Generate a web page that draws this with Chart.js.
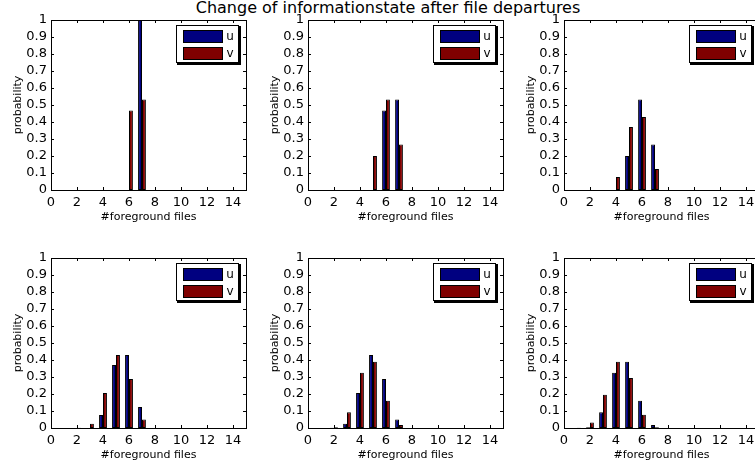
<!DOCTYPE html>
<html>
<head>
<meta charset="utf-8">
<script src="https://cdn.jsdelivr.net/npm/chart.js@4.4.1/dist/chart.umd.min.js"></script>
<style>
  body { margin: 0; width: 755px; height: 470px; overflow: hidden; background: #fff; position: relative; font-family: "DejaVu Sans", sans-serif; }
  canvas { position: absolute; }
  #suptitle { position: absolute; top: 0; left: 0; width: 776px; text-align: center; font-size: 16px; line-height: 16px; color: #000; white-space: nowrap; }
</style>
</head>
<body>
<div id="suptitle"></div>

<script>
// ---- data ----
const figureTitle = "Change of informationstate after file departures";
const xTitle = "#foreground files";
const yTitle = "probability";
const seriesNames = ["u", "v"];

const fileCounts = [0, 1, 2, 3, 4, 5, 6, 7, 8, 9, 10, 11, 12, 13, 14];
const xTicks = [0, 2, 4, 6, 8, 10, 12, 14];
const yTicks = [0, 0.1, 0.2, 0.3, 0.4, 0.5, 0.6, 0.7, 0.8, 0.9, 1];

//             0  1      2      3      4      5      6      7      8..14
const uProb1 = [0, 0,     0,     0,     0,     0,     0,     1,     0, 0, 0, 0, 0, 0, 0];
const vProb1 = [0, 0,     0,     0,     0,     0,     0.467, 0.533, 0, 0, 0, 0, 0, 0, 0];
const uProb2 = [0, 0,     0,     0,     0,     0,     0.467, 0.533, 0, 0, 0, 0, 0, 0, 0];
const vProb2 = [0, 0,     0,     0,     0,     0.2,   0.533, 0.267, 0, 0, 0, 0, 0, 0, 0];
const uProb3 = [0, 0,     0,     0,     0,     0.2,   0.533, 0.267, 0, 0, 0, 0, 0, 0, 0];
const vProb3 = [0, 0,     0,     0,     0.076, 0.371, 0.429, 0.124, 0, 0, 0, 0, 0, 0, 0];
const uProb4 = [0, 0,     0,     0,     0.076, 0.371, 0.429, 0.124, 0, 0, 0, 0, 0, 0, 0];
const vProb4 = [0, 0,     0.001, 0.025, 0.206, 0.429, 0.288, 0.05,  0, 0, 0, 0, 0, 0, 0];
const uProb5 = [0, 0,     0.001, 0.025, 0.206, 0.429, 0.288, 0.05,  0, 0, 0, 0, 0, 0, 0];
const vProb5 = [0, 0,     0.005, 0.092, 0.325, 0.39,  0.16,  0.017, 0, 0, 0, 0, 0, 0, 0];
const uProb6 = [0, 0,     0.005, 0.092, 0.325, 0.39,  0.16,  0.017, 0, 0, 0, 0, 0, 0, 0];
const vProb6 = [0, 0.001, 0.033, 0.195, 0.39,  0.294, 0.078, 0.005, 0, 0, 0, 0, 0, 0, 0];

const panels = [
  [uProb1, vProb1], [uProb2, vProb2], [uProb3, vProb3],
  [uProb4, vProb4], [uProb5, vProb5], [uProb6, vProb6]
];

// ---- layout / style ----
const colLefts = [51, 308, 564];
const rowTops = [20, 258];
const plotW = 195, plotH = 170;
const padLeft = 51, padTop = 20, padRight = 5, canvasH = 230;
const colors = ["#000080", "#800000"];
const fontFam = "'DejaVu Sans', sans-serif";

document.getElementById("suptitle").textContent = figureTitle;

// box, inward ticks and matlab style legend
const matlabFrame = {
  id: 'matlabFrame',
  afterDraw(chart) {
    const ctx = chart.ctx;
    const a = chart.chartArea;
    const xs = chart.scales.x, ys = chart.scales.y;
    const tl = 3;
    ctx.save();
    ctx.strokeStyle = '#000';
    ctx.lineWidth = 1;
    ctx.strokeRect(Math.round(a.left) + 0.5, Math.round(a.top) + 0.5, Math.round(a.right - a.left), Math.round(a.bottom - a.top));
    ctx.beginPath();
    xTicks.forEach(function(v) {
      const px = Math.round(xs.getPixelForValue(v)) + 0.5;
      ctx.moveTo(px, a.bottom); ctx.lineTo(px, a.bottom - tl);
      ctx.moveTo(px, a.top); ctx.lineTo(px, a.top + tl);
    });
    yTicks.forEach(function(v) {
      const py = Math.round(ys.getPixelForValue(v)) + 0.5;
      ctx.moveTo(a.left, py); ctx.lineTo(a.left + tl, py);
      ctx.moveTo(a.right, py); ctx.lineTo(a.right - tl, py);
    });
    ctx.stroke();

    // legend
    const bw = 63, bh = 38;
    const bx = Math.round(a.right - 7 - bw), by = Math.round(a.top + 5);
    ctx.fillStyle = '#000';
    ctx.fillRect(bx + 1, by + 1, bw + 1, bh + 1);
    ctx.fillStyle = '#fff';
    ctx.fillRect(bx, by, bw, bh);
    ctx.strokeRect(bx + 0.5, by + 0.5, bw - 1, bh - 1);
    ctx.font = "12px " + fontFam;
    ctx.textAlign = 'center';
    ctx.textBaseline = 'middle';
    chart.data.datasets.forEach(function(ds, i) {
      const sy = by + 5 + i * 17;
      ctx.fillStyle = ds.backgroundColor;
      ctx.fillRect(bx + 7, sy, 40, 13);
      ctx.strokeRect(bx + 7.5, sy + 0.5, 39, 12);
      ctx.fillStyle = '#000';
      ctx.fillText(ds.label, bx + 54, sy + 6.5);
    });
    ctx.restore();
  }
};

panels.forEach(function(series, i) {
  const col = i % 3, row = Math.floor(i / 3);
  const cv = document.createElement('canvas');
  cv.width = padLeft + plotW + padRight;
  cv.height = canvasH;
  cv.style.left = (colLefts[col] - padLeft) + 'px';
  cv.style.top = (rowTops[row] - padTop) + 'px';
  document.body.appendChild(cv);

  new Chart(cv, {
    type: 'bar',
    data: {
      datasets: series.map(function(vals, k) {
        return {
          label: seriesNames[k],
          data: fileCounts.map(function(f, j) { return { x: f, y: vals[j] }; }),
          backgroundColor: colors[k],
          borderColor: '#000',
          borderWidth: 1,
          borderSkipped: false,
          categoryPercentage: 0.6,
          barPercentage: 1
        };
      })
    },
    options: {
      responsive: false,
      animation: false,
      layout: { padding: { top: padTop, right: padRight, left: 0, bottom: 0 } },
      plugins: { legend: { display: false }, tooltip: { enabled: false } },
      scales: {
        x: {
          type: 'linear', min: 0, max: 15, offset: false,
          afterBuildTicks: function(s) { s.ticks = xTicks.map(function(v) { return { value: v }; }); },
          afterFit: function(s) { s.height = canvasH - padTop - plotH; },
          grid: { display: false, drawTicks: false, offset: false },
          border: { display: false },
          ticks: { color: '#000', padding: 5, maxRotation: 0, autoSkip: false, font: { family: fontFam, size: 13 },
                   callback: function(v) { return String(v); } },
          title: { display: true, text: xTitle, color: '#000', font: { family: fontFam, size: 11 }, padding: { top: 0, bottom: 6 } }
        },
        y: {
          min: 0, max: 1,
          afterBuildTicks: function(s) { s.ticks = yTicks.map(function(v) { return { value: v }; }); },
          afterFit: function(s) { s.width = padLeft; },
          grid: { display: false, drawTicks: false },
          border: { display: false },
          ticks: { color: '#000', padding: 4, autoSkip: false, font: { family: fontFam, size: 13 },
                   callback: function(v) { return String(v); } },
          title: { display: true, text: yTitle, color: '#000', font: { family: fontFam, size: 11 }, padding: { top: 12, bottom: 0 } }
        }
      }
    },
    plugins: [matlabFrame]
  });
});
</script>
</body>
</html>
